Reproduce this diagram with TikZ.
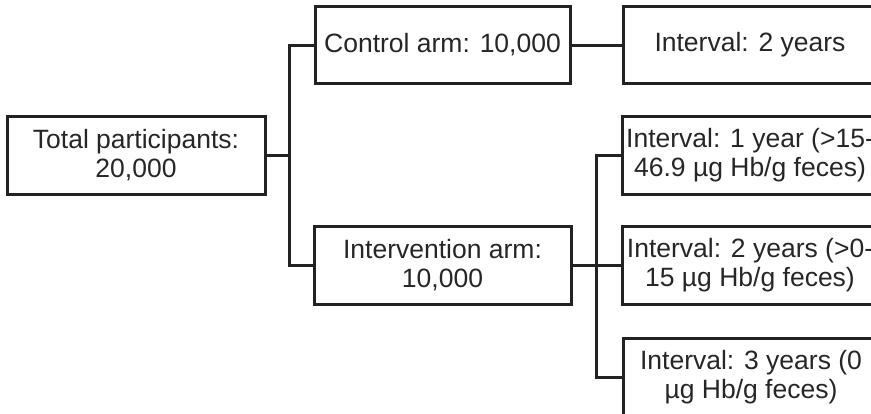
\documentclass[tikz,border=0pt]{standalone}
\usepackage{fontspec}
\setmainfont{Liberation Sans}
\definecolor{linecol}{HTML}{222222}
\definecolor{textcol}{HTML}{262626}
\begin{document}
\begin{tikzpicture}[x=1pt,y=-1pt,
  box/.style={draw=linecol, line width=3pt, inner sep=0pt, align=center,
    text=textcol, font=\fontsize{26.5}{28.5}\selectfont,
    minimum height=78pt},
  conn/.style={draw=linecol, line width=3pt}]
\useasboundingbox (0,0) rectangle (871,413);
\clip (0,0) rectangle (871,413);
\node[box, minimum width=258pt] (total) at (136,155) {Total participants:\\20,000};
\node[box, minimum width=255pt, minimum height=77pt] (control) at (442.5,45) {Control arm: 10,000};
\node[box, minimum width=257pt] (interv) at (442.5,265) {Intervention arm:\\10,000};
\node[box, minimum width=254pt, minimum height=77pt] (ctlint) at (750,45) {Interval: 2 years};
\node[box, minimum width=256pt] (i1) at (750,155) {Interval: 1 year (>15-\\46.9 µg Hb/g feces)};
\node[box, minimum width=256pt] (i2) at (750,265) {Interval: 2 years (>0-\\15 µg Hb/g feces)};
\node[box, minimum width=256pt] (i3) at (751,377) {Interval: 3 years (0\\µg Hb/g feces)};
\coordinate (j1) at (289,155);
\coordinate (j2) at (596,265);
\draw[conn] (total.east) -- (j1);
\draw[conn] (control.west) -| (j1) |- (interv.west);
\draw[conn] (control.east) -- (ctlint.west);
\draw[conn] (interv.east) -- (i2.west);
\draw[conn] (i1.west) -| (j2) |- (i3.west);
\end{tikzpicture}
\end{document}
